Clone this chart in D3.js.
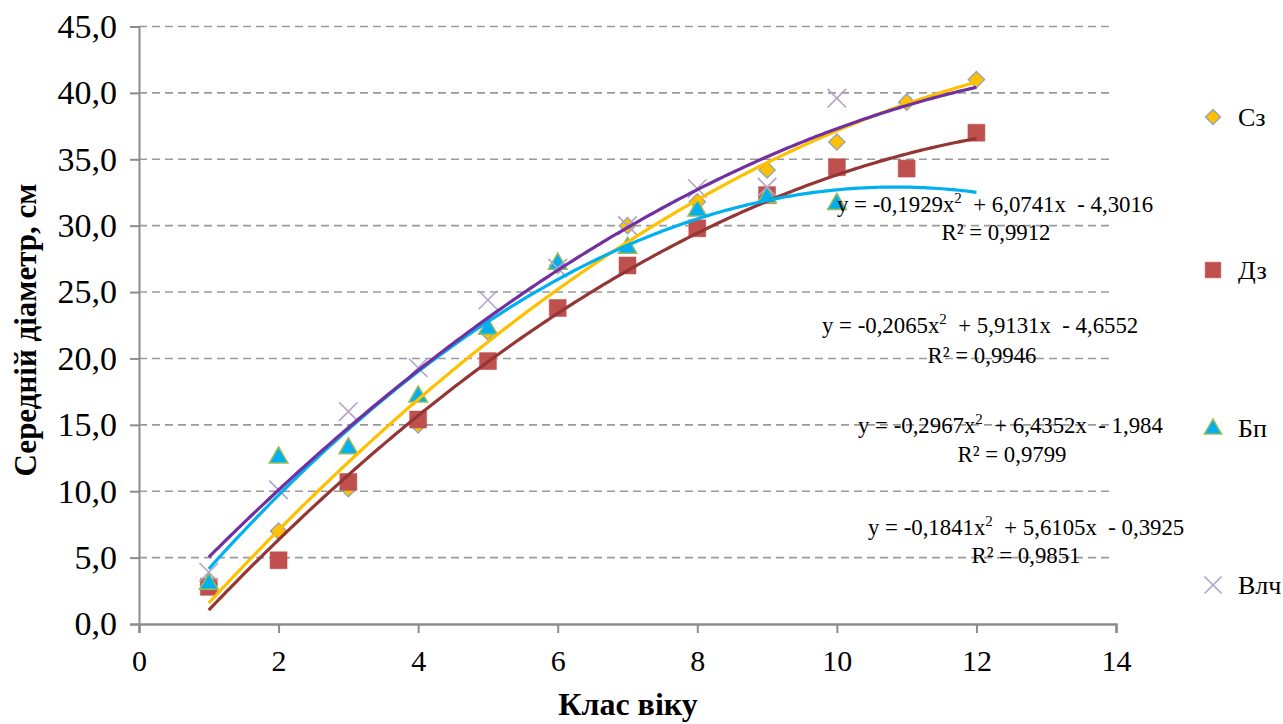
<!DOCTYPE html>
<html>
<head>
<meta charset="utf-8">
<script src="https://cdn.jsdelivr.net/npm/d3@7/dist/d3.min.js"></script>
<style>
  html, body { margin: 0; padding: 0; background: #fff; }
  svg { display: block; }
  text { font-family: "Liberation Serif", "Times New Roman", serif; fill: #000; }
</style>
</head>
<body>
<svg id="chart" width="1283" height="724"></svg>
<script>
// Age classes and mean diameters (cm) per stand type
const classes = [1, 2, 3, 4, 5, 6, 7, 8, 9, 10, 11, 12];
const seriesNames = ["Сз", "Дз", "Бп", "Влч"];
const szValues   = [3.0, 7.0, 10.2, 15.0, 22.0, 27.0, 30.0, 31.8, 34.2, 36.3, 39.3, 41.0];
const dzValues   = [2.8, 4.8, 10.7, 15.4, 19.8, 23.8, 27.0, 29.8, 32.3, 34.4, 34.3, 37.0];
const bpValues   = [3.1, 12.6, 13.3, 17.2, 22.3, 27.2, 28.4, 31.2, 32.2, 31.7];
const vlchValues = [3.9, 10.1, 16.0, 19.3, 24.4, 26.8, 30.0, 32.8, 32.9, 39.6];

// Polynomial (2nd order) trend coefficients [a, b, c] : y = a x^2 + b x + c
const szTrend   = [-0.1929, 6.0741, -4.3016];
const dzTrend   = [-0.2065, 5.9131, -4.6552];
const bpTrend   = [-0.2967, 6.4352, -1.984];
const vlchTrend = [-0.1841, 5.6105, -0.3925];
const rSquared  = [0.9912, 0.9946, 0.9799, 0.9851];

const xTicks = [0, 2, 4, 6, 8, 10, 12, 14];
const yTicks = [0, 5, 10, 15, 20, 25, 30, 35, 40, 45];

const svg = d3.select("#chart");
const plotLeft = 139, plotRight = 1116, plotTop = 26.5, plotBottom = 624;

const x = d3.scaleLinear().domain([0, 14]).range([plotLeft, plotRight]);
const y = d3.scaleLinear().domain([0, 45]).range([plotBottom, plotTop]);

const fmt1 = v => d3.format(".1f")(v).replace(".", ",");
const fmtC = (v, d) => v.toFixed(d).replace(".", ",");

// Horizontal dashed gridlines
svg.append("g")
  .selectAll("line")
  .data(yTicks.filter(t => t > 0))
  .join("line")
  .attr("x1", plotLeft).attr("x2", plotRight - 3)
  .attr("y1", d => y(d)).attr("y2", d => y(d))
  .attr("stroke", "#9a9a9a").attr("stroke-width", 1.6)
  .attr("stroke-dasharray", "8,5");

// Y axis
const yAxis = svg.append("g")
  .attr("transform", `translate(${plotLeft},0)`)
  .call(d3.axisLeft(y).tickValues(yTicks).tickFormat(fmt1).tickSize(9).tickPadding(13));
yAxis.select(".domain").attr("stroke", "#8c8c8c").attr("stroke-width", 2);
yAxis.selectAll(".tick line").attr("stroke", "#8c8c8c").attr("stroke-width", 2);
yAxis.selectAll(".tick text")
  .attr("font-family", "Liberation Serif, serif")
  .attr("font-size", 34).attr("fill", "#000");

// X axis
const xAxis = svg.append("g")
  .attr("transform", `translate(0,${plotBottom})`)
  .call(d3.axisBottom(x).tickValues(xTicks).tickFormat(d3.format("d")).tickSize(9).tickPadding(17));
xAxis.select(".domain").attr("stroke", "#8c8c8c").attr("stroke-width", 2.4);
xAxis.selectAll(".tick line").attr("stroke", "#8c8c8c").attr("stroke-width", 2);
xAxis.selectAll(".tick text")
  .attr("font-family", "Liberation Serif, serif")
  .attr("font-size", 30).attr("fill", "#000");

// Axis titles
svg.append("text")
  .attr("transform", `translate(36,330) rotate(-90)`)
  .attr("text-anchor", "middle")
  .attr("font-size", 31).attr("font-weight", "bold")
  .text("Середній діаметр, см");

svg.append("text")
  .attr("x", 628).attr("y", 715)
  .attr("text-anchor", "middle")
  .attr("font-size", 32).attr("font-weight", "bold")
  .text("Клас віку");

// Marker shapes
const crossSymbol = {
  draw(ctx, s) {
    const r = Math.sqrt(s) / 1.6;
    ctx.moveTo(-r, -r); ctx.lineTo(r, r);
    ctx.moveTo(-r, r); ctx.lineTo(r, -r);
  }
};
const squareDiamond = {
  draw(ctx, s) {
    const r = Math.sqrt(s) / 1.5;
    ctx.moveTo(0, -r); ctx.lineTo(r, 0); ctx.lineTo(0, r); ctx.lineTo(-r, 0); ctx.closePath();
  }
};
const markerStyles = {
  "Сз":  { sym: squareDiamond,     size: 150, fill: "#FFC000", stroke: "#8EA4BE", sw: 1.3 },
  "Дз":  { sym: d3.symbolSquare,   size: 289, fill: "#C0504D", stroke: "#C0504D", sw: 0.5 },
  "Бп":  { sym: d3.symbolTriangle, size: 150, fill: "#00B0F0", stroke: "#9BBB59", sw: 1.5 },
  "Влч": { sym: crossSymbol,       size: 220, fill: "none",    stroke: "#B3A2C7", sw: 1.6 }
};

function drawMarker(g, name, cx, cy, scale) {
  const st = markerStyles[name];
  g.append("path")
    .attr("d", d3.symbol(st.sym, st.size * (scale || 1))())
    .attr("transform", `translate(${cx},${cy + (name === "Бп" ? 1 : 0)})`)
    .attr("fill", st.fill)
    .attr("stroke", st.stroke)
    .attr("stroke-width", st.sw);
}

const seriesData = [
  { name: "Сз",  values: szValues,   trend: szTrend,   color: "#FFC000" },
  { name: "Дз",  values: dzValues,   trend: dzTrend,   color: "#943634" },
  { name: "Бп",  values: bpValues,   trend: bpTrend,   color: "#00B0F0" },
  { name: "Влч", values: vlchValues, trend: vlchTrend, color: "#7030A0" }
];

// Data markers
const markersG = svg.append("g");
seriesData.forEach(s => {
  s.values.forEach((v, i) => drawMarker(markersG, s.name, x(classes[i]), y(v)));
});

// Trend curves evaluated from the fitted coefficients over the age classes
const trendG = svg.append("g");
const line = d3.line().x(d => x(d[0])).y(d => y(d[1]));
seriesData.forEach(s => {
  const [a, b, c] = s.trend;
  const pts = d3.range(classes[0], classes[classes.length - 1] + 0.001, 0.05).map(t => [t, a * t * t + b * t + c]);
  trendG.append("path")
    .attr("d", line(pts))
    .attr("fill", "none")
    .attr("stroke", s.color)
    .attr("stroke-width", 3.2)
    .attr("stroke-linejoin", "round");
});

// Trend equations
const eqPos = [
  { x: 837, y: 212, rx: 996, ry: 240 },
  { x: 822, y: 333, rx: 982, ry: 363 },
  { x: 858, y: 433, rx: 1012, ry: 462 },
  { x: 868, y: 535, rx: 1026, ry: 563 }
];
const trends = [szTrend, dzTrend, bpTrend, vlchTrend];
const eqG = svg.append("g");
trends.forEach((t, i) => {
  const p = eqPos[i];
  const [a, b, c] = t;
  const aTxt = fmtC(a, 4);
  const bTxt = fmtC(b, 4);
  const cDigits = String(Math.abs(c)).split(".")[1].length;
  const cTxt = fmtC(Math.abs(c), cDigits);
  const txt = eqG.append("text").attr("x", p.x).attr("y", p.y).attr("font-size", 22.8)
    .style("white-space", "pre");
  txt.append("tspan").text(`y = ${aTxt}x`);
  txt.append("tspan").attr("dy", -9).attr("font-size", 15).text("2");
  txt.append("tspan").attr("dy", 9).text(`  + ${bTxt}x  - ${cTxt}`);
  eqG.append("text")
    .attr("x", p.rx).attr("y", p.ry)
    .attr("text-anchor", "middle")
    .attr("font-size", 22.8)
    .text(`R² = ${fmtC(rSquared[i], 4)}`);
});

// Legend
const legendY = [117, 270, 428, 585];
const legendG = svg.append("g");
seriesNames.forEach((n, i) => {
  drawMarker(legendG, n, 1213, legendY[i], 0.85);
  legendG.append("text")
    .attr("x", 1238).attr("y", legendY[i] + 9)
    .attr("font-size", 26)
    .text(n);
});
</script>
</body>
</html>
